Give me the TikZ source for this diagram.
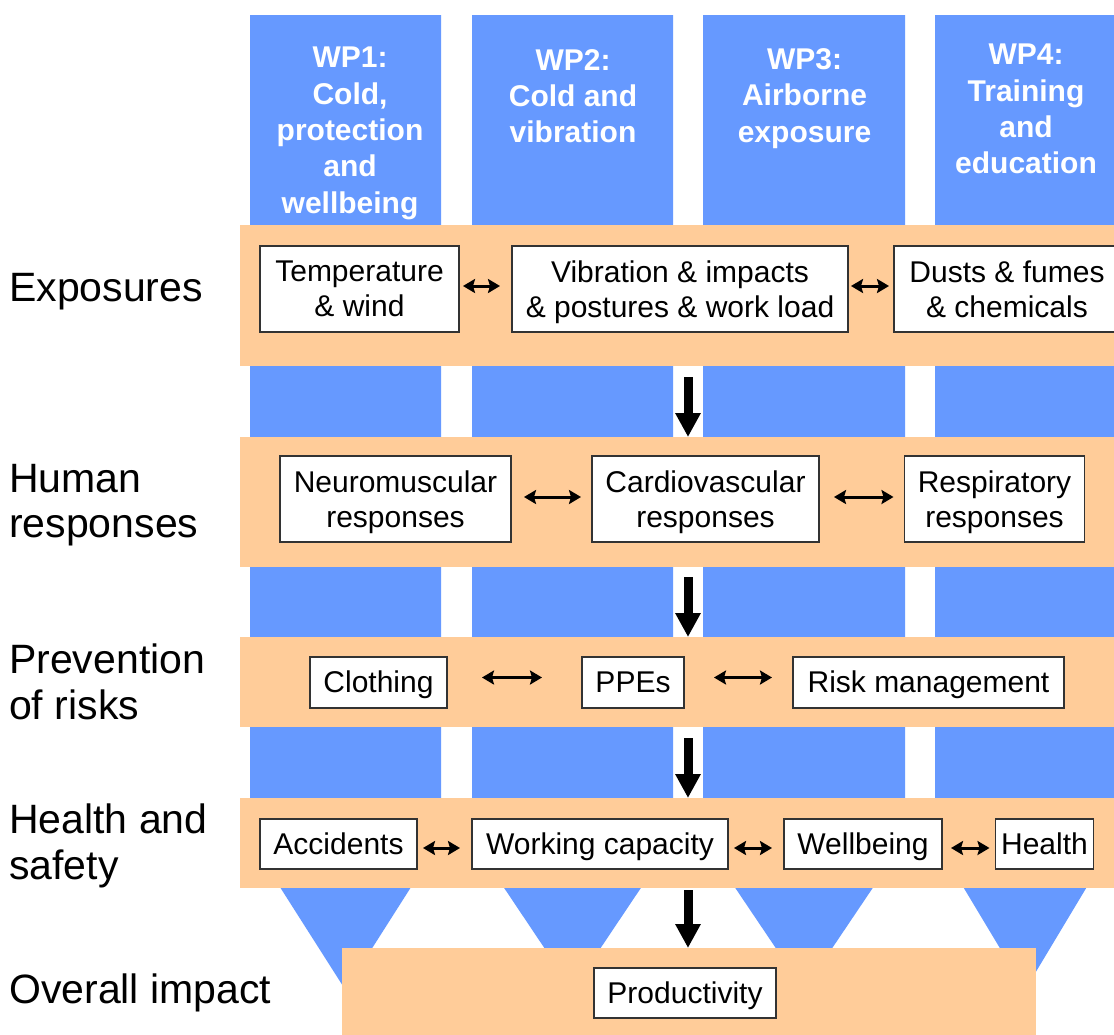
\documentclass[tikz,border=0pt]{standalone}
\usepackage{fontspec}
\setmainfont{Liberation Sans}
\usetikzlibrary{arrows.meta}
\definecolor{wpblue}{RGB}{102,153,255}
\definecolor{bandorange}{RGB}{255,204,153}
\begin{document}
\begin{tikzpicture}[x=1pt,y=-1pt,
  band/.style={fill=bandorange, draw=none, inner sep=0pt, outer sep=0pt, anchor=north west},
  box/.style={draw=black!80, line width=1.3pt, fill=white, inner sep=0pt, outer sep=0pt, align=center, font=\fontsize{30}{35}\selectfont},
  onebox/.style={box, text height=27pt, text depth=6.5pt},
  twobox/.style={box, text depth=0pt},
  wptext/.style={text=white, font=\bfseries\fontsize{30}{36.3}\selectfont, align=center, inner sep=0pt, anchor=north},
  rowlabel/.style={font=\fontsize{41}{45.5}\selectfont, align=left, inner sep=0pt, anchor=north west},
  dbl/.style={line width=3pt, {Stealth[length=12pt,width=14pt,inset=2pt]}-{Stealth[length=12pt,width=14pt,inset=2pt]}},
  bigarr/.style={line width=9pt, -{Triangle[length=24pt,width=24pt]}},
]
\useasboundingbox (0,0) rectangle (1114,1034);
\clip (0,0) rectangle (1114,1034);
\fill[white] (0,0) rectangle (1114,1034);

% work package columns
\fill[wpblue] (250,15) -- (441,15) -- (441,840) -- (345.5,990) -- (250,840) -- cycle;
\fill[wpblue] (472,15) -- (673,15) -- (673,840) -- (572.5,990) -- (472,840) -- cycle;
\fill[wpblue] (703,15) -- (905,15) -- (905,840) -- (804,990) -- (703,840) -- cycle;
\fill[wpblue] (935,15) -- (1115,15) -- (1115,840) -- (1025,990) -- (935,840) -- cycle;

\node[wptext] (wp1) at (350,47) {WP1:\\Cold,\\protection\\and\\wellbeing};
\node[wptext] (wp2) at (573,49) {WP2:\\Cold and\\vibration};
\node[wptext] (wp3) at (804.5,48.5) {WP3:\\Airborne\\exposure};
\node[wptext] (wp4) at (1026,44) {WP4:\\Training\\and\\education};

% bands
\node[band, minimum width=880pt, minimum height=141pt] (band1) at (240,225) {};
\node[band, minimum width=880pt, minimum height=130pt] (band2) at (240,437) {};
\node[band, minimum width=880pt, minimum height=90pt] (band3) at (240,637) {};
\node[band, minimum width=880pt, minimum height=90pt] (band4) at (240,798) {};
\node[band, minimum width=694pt, minimum height=92pt] (band5) at (342,948) {};

% boxes
\node[twobox, minimum width=199pt, minimum height=86pt] (temp) at (359.5,289) {Temperature\\\& wind};
\node[twobox, minimum width=336pt, minimum height=86pt] (vib) at (680,289) {Vibration \& impacts\\\& postures \& work load};
\node[twobox, minimum width=226pt, minimum height=86pt] (dust) at (1007,289) {Dusts \& fumes\\\& chemicals};
\node[twobox, minimum width=231pt, minimum height=86pt] (neuro) at (395.5,499) {Neuromuscular\\responses};
\node[twobox, minimum width=227pt, minimum height=86pt] (cardio) at (705.5,499) {Cardiovascular\\responses};
\node[twobox, minimum width=180pt, minimum height=86pt] (resp) at (994.5,499) {Respiratory\\responses};
\node[onebox, minimum width=137pt, minimum height=51pt] (cloth) at (378.5,682.5) {Clothing};
\node[onebox, minimum width=102pt, minimum height=51pt] (ppe) at (633,682.5) {PPEs};
\node[onebox, minimum width=271pt, minimum height=51pt] (risk) at (928.5,682.5) {Risk management};
\node[onebox, minimum width=157pt, minimum height=50pt] (acc) at (338.5,844) {Accidents};
\node[onebox, minimum width=256pt, minimum height=50pt] (work) at (600,844) {Working capacity};
\node[onebox, minimum width=158pt, minimum height=50pt] (well) at (863,844) {Wellbeing};
\node[onebox, minimum width=98pt, minimum height=50pt] (health) at (1044.5,844) {Health};
\node[onebox, minimum width=182pt, minimum height=50pt] (prod) at (685,993) {Productivity};

% small double arrows
\draw[dbl] ([xshift=4pt,yshift=3pt]temp.east) -- ([xshift=-12pt,yshift=3pt]vib.west);
\draw[dbl] ([xshift=3pt,yshift=3pt]vib.east) -- ([xshift=-5pt,yshift=3pt]dust.west);
\draw[dbl] ([xshift=13pt,yshift=2pt]neuro.east) -- ([xshift=-11pt,yshift=2pt]cardio.west);
\draw[dbl] ([xshift=15pt,yshift=2pt]cardio.east) -- ([xshift=-11pt,yshift=2pt]resp.west);
\draw[dbl] ([xshift=35pt,yshift=5pt]cloth.east) -- ([xshift=-40pt,yshift=5pt]ppe.west);
\draw[dbl] ([xshift=30pt,yshift=5pt]ppe.east) -- ([xshift=-21pt,yshift=5pt]risk.west);
\draw[dbl] ([xshift=6pt,yshift=-4pt]acc.east) -- ([xshift=-12pt,yshift=-4pt]work.west);
\draw[dbl] ([xshift=6pt,yshift=-4pt]work.east) -- ([xshift=-12pt,yshift=-4pt]well.west);
\draw[dbl] ([xshift=9pt,yshift=-4pt]well.east) -- ([xshift=-6pt,yshift=-4pt]health.west);

% big arrows
\coordinate (ax) at (688,0);
\draw[bigarr, shorten <=11pt] (band1.south -| ax) -- (band2.north -| ax);
\draw[bigarr, shorten <=10pt] (band2.south -| ax) -- (band3.north -| ax);
\draw[bigarr, shorten <=11pt] (band3.south -| ax) -- (band4.north -| ax);
\draw[bigarr, shorten <=2pt] (band4.south -| ax) -- (band5.north -| ax);

% row labels
\node[rowlabel] (l1) at (9,272.7) {Exposures};
\node[rowlabel] (l2) at (9,463.7) {Human\\responses};
\node[rowlabel] (l3) at (9,643.7) {Prevention\\of risks};
\node[rowlabel] (l4) at (9,803.7) {Health and\\safety};
\node[rowlabel] (l5) at (9,973.7) {Overall impact};
\end{tikzpicture}
\end{document}
